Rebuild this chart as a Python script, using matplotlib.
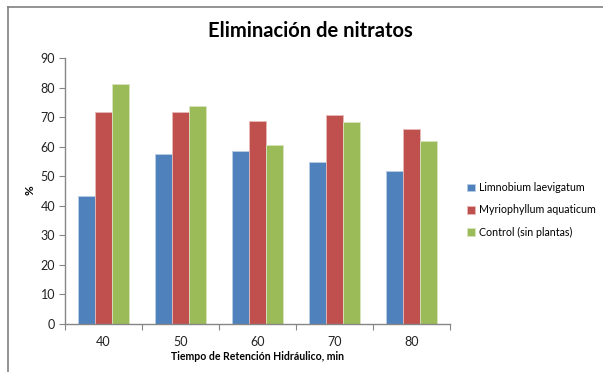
import numpy as np
import matplotlib
matplotlib.use("Agg")
import matplotlib.pyplot as plt
from matplotlib.lines import Line2D

plt.rcParams['font.family'] = ['Lato', 'DejaVu Sans']

# tiempo de retención (min) y % de nitrato eliminado
tiempos = ['40', '50', '60', '70', '80']
limnobium = [43.3, 57.4, 58.6, 54.9, 51.6]
myriophyllum = [71.6, 71.6, 68.8, 70.8, 65.9]
control = [81.1, 73.8, 60.6, 68.4, 62.0]

series = [
    ('Limnobium laevigatum', limnobium, '#4F81BD', '#B9CDE5'),
    ('Myriophyllum aquaticum', myriophyllum, '#C0504D', '#E6B9B8'),
    ('Control (sin plantas)', control, '#9BBB59', '#D7E4BD'),
]

fig = plt.figure(figsize=(6.03, 3.72), dpi=100)
ax = fig.add_axes([65 / 603, 1 - 324 / 372, (450 - 65) / 603, (324 - 58) / 372])

x = np.arange(len(tiempos))
w = 1 / 4.5
for i, (nombre, vals, col, borde) in enumerate(series):
    ax.bar(x + (i - 1) * w, vals, width=w, color=col, edgecolor=borde,
           linewidth=0.6, label=nombre)

ax.set_xlim(-0.5, len(tiempos) - 0.5)
ax.set_ylim(0, 90)
ax.set_yticks(range(0, 91, 10))
ax.set_xticks(x)
ax.set_xticklabels(tiempos)
ax.set_xticks(np.arange(-0.5, len(tiempos), 1), minor=True)
ax.tick_params(axis='x', which='major', length=0, pad=9, labelsize=9, colors='#222222')
ax.tick_params(axis='x', which='minor', length=4, width=0.8, color='#868686')
ax.tick_params(axis='y', length=4, width=0.8, color='#868686', labelsize=9,
               labelcolor='#222222', pad=3)

for lado in ['top', 'right']:
    ax.spines[lado].set_visible(False)
for lado in ['left', 'bottom']:
    ax.spines[lado].set_color('#868686')
    ax.spines[lado].set_linewidth(1.0)

ax.set_xlabel('Tiempo de Retención Hidráulico, min', fontsize=7.6,
              fontweight='bold', labelpad=2)
fig.text(30 / 603, 1 - 190 / 372, '%', fontsize=8.5, fontweight='bold',
         rotation=90, ha='center', va='center')
fig.text(310 / 603, 1 - 31 / 372, 'Eliminación de nitratos', fontsize=14.5,
         fontweight='bold', ha='center', va='center')

ax.legend(loc='center left', bbox_to_anchor=(457 / 603, 1 - 210 / 372),
          bbox_transform=fig.transFigure, frameon=False, fontsize=7.7,
          handlelength=0.75, handleheight=0.75, handletextpad=0.4,
          labelspacing=1.05)

# marco del gráfico
fig.add_artist(Line2D([8 / 603, 8 / 603], [0, 1 - 7 / 372], color='#808080',
                      linewidth=1.2, transform=fig.transFigure))
fig.add_artist(Line2D([8 / 603, 1], [1 - 7 / 372, 1 - 7 / 372], color='#808080',
                      linewidth=1.2, transform=fig.transFigure))

fig.savefig('out.png', dpi=100)
